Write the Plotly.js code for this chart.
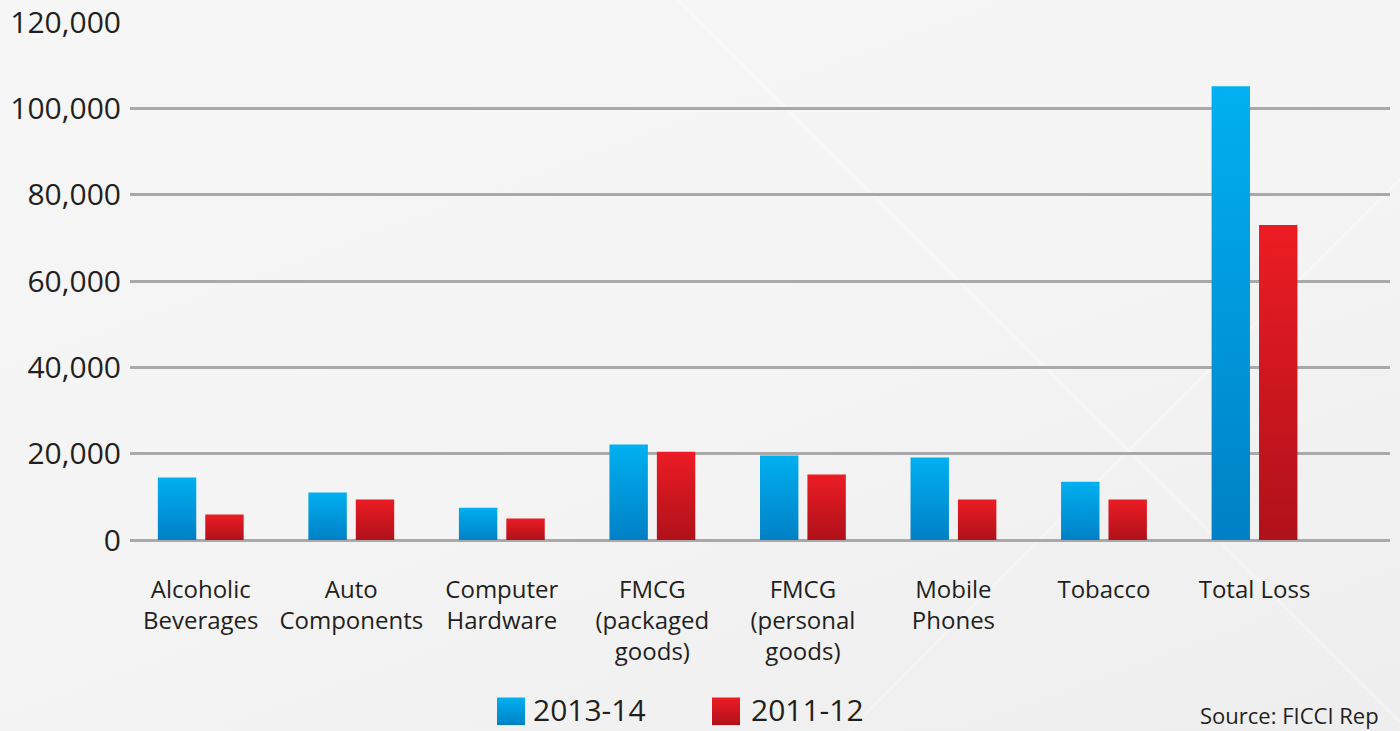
<!DOCTYPE html>
<html>
<head>
<meta charset="utf-8">
<script src="https://cdn.plot.ly/plotly-3.0.1.min.js"></script>
<style>
  html, body { margin: 0; padding: 0; }
  body {
    width: 1400px; height: 731px; overflow: hidden;
    background:
      linear-gradient(45deg, rgba(255,255,255,0) 66%, rgba(255,255,255,0.35) 66.1%, rgba(255,255,255,0) 66.3%),
      linear-gradient(135deg, rgba(255,255,255,0) 74%, rgba(255,255,255,0.3) 74.1%, rgba(255,255,255,0) 74.3%),
      linear-gradient(160deg, #f6f6f6 0%, #f4f4f4 50%, #eeeeee 100%);
  }
  #chart { width: 1400px; height: 731px; }
</style>
</head>
<body>
<div id="chart"></div>
<script>
const categories = [
  "Alcoholic<br>Beverages",
  "Auto<br>Components",
  "Computer<br>Hardware",
  "FMCG<br>(packaged<br>goods)",
  "FMCG<br>(personal<br>goods)",
  "Mobile<br>Phones",
  "Tobacco",
  "Total Loss"
];
const series2013 = [14450, 11000, 7500, 22100, 19600, 19100, 13500, 105100];
const series2011 = [5900, 9400, 5000, 20450, 15200, 9400, 9400, 72950];
const seriesNames = ["2013-14", "2011-12"];
const yTickVals = [0, 20000, 40000, 60000, 80000, 100000, 120000];
const yTickText = ["0", "20,000", "40,000", "60,000", "80,000", "100,000", "120,000"];
const sourceText = "Source: FICCI Rep";

const FONT = "'Open Sans', Lato, sans-serif";
const TXT = "#231f20";

// plot area in pixels
const L = 130, R = 10, T = 22, B = 190.5;
const W = 1400, H = 731;
const pw = W - L - R, ph = H - T - B;
const px2x = p => (p - L) / pw;
const py2y = p => (H - B - p) / ph;

function sq(top, bottom) {
  const svg = "<svg xmlns='http://www.w3.org/2000/svg' width='28' height='28'>" +
    "<defs><linearGradient id='g' x1='0' y1='0' x2='0' y2='1'>" +
    "<stop offset='0' stop-color='" + top + "'/><stop offset='1' stop-color='" + bottom + "'/>" +
    "</linearGradient></defs><rect width='28' height='28' fill='url(#g)'/></svg>";
  return "data:image/svg+xml;charset=utf-8," + encodeURIComponent(svg);
}

const traces = [
  {
    type: "bar", name: seriesNames[0], x: categories, y: series2013,
    marker: { color: "#00a0e0", line: { width: 0 } }, hoverinfo: "x+y+name"
  },
  {
    type: "bar", name: seriesNames[1], x: categories, y: series2011,
    marker: { color: "#d91a22", line: { width: 0 } }, hoverinfo: "x+y+name"
  }
];

const layout = {
  width: W, height: H,
  margin: { l: L, r: R, t: T, b: B, pad: 0 },
  paper_bgcolor: "rgba(0,0,0,0)",
  plot_bgcolor: "rgba(0,0,0,0)",
  showlegend: false,
  barmode: "group",
  bargap: 0.37,
  bargroupgap: 0.19,
  font: { family: FONT, color: TXT },
  xaxis: {
    type: "category",
    range: [-0.47, 7.9],
    showgrid: false, showline: false, zeroline: false,
    ticks: "", ticklabelstandoff: 33,
    tickfont: { size: 24, color: TXT, family: FONT },
    tickangle: 0, fixedrange: true
  },
  yaxis: {
    range: [0, 120000],
    tickvals: yTickVals, ticktext: yTickText,
    showgrid: true, gridcolor: "#a9a9ab", gridwidth: 3,
    zeroline: true, zerolinecolor: "#a9a9ab", zerolinewidth: 3,
    showline: false, ticks: "", ticklabelstandoff: 8,
    tickfont: { size: 30, color: TXT, family: FONT },
    fixedrange: true
  },
  images: [
    { source: sq("#00b0f0", "#0080c6"), xref: "paper", yref: "paper",
      x: px2x(497), y: py2y(698), sizex: 28 / pw, sizey: 28 / ph,
      xanchor: "left", yanchor: "top", sizing: "stretch", layer: "above" },
    { source: sq("#ec1c24", "#b0111a"), xref: "paper", yref: "paper",
      x: px2x(712), y: py2y(698), sizex: 28 / pw, sizey: 28 / ph,
      xanchor: "left", yanchor: "top", sizing: "stretch", layer: "above" }
  ],
  annotations: [
    { text: seriesNames[0], xref: "paper", yref: "paper", x: px2x(532), y: py2y(710),
      xanchor: "left", yanchor: "middle", showarrow: false, borderpad: 0,
      font: { size: 30, color: TXT, family: FONT } },
    { text: seriesNames[1], xref: "paper", yref: "paper", x: px2x(750), y: py2y(710),
      xanchor: "left", yanchor: "middle", showarrow: false, borderpad: 0,
      font: { size: 30, color: TXT, family: FONT } },
    { text: sourceText, xref: "paper", yref: "paper", x: px2x(1199), y: py2y(716),
      xanchor: "left", yanchor: "middle", showarrow: false, borderpad: 0,
      font: { size: 22, color: TXT, family: FONT } }
  ]
};

Plotly.newPlot("chart", traces, layout, { staticPlot: true, displayModeBar: false }).then(gd => {
  const svg = gd.querySelector("svg.main-svg");
  const NS = "http://www.w3.org/2000/svg";
  const defs = document.createElementNS(NS, "defs");
  const grads = [["gradBlue", "#00b0f0", "#0080c6"], ["gradRed", "#ec1c24", "#b0111a"]];
  grads.forEach(([id, a, b]) => {
    const lg = document.createElementNS(NS, "linearGradient");
    lg.setAttribute("id", id);
    lg.setAttribute("x1", "0"); lg.setAttribute("y1", "0");
    lg.setAttribute("x2", "0"); lg.setAttribute("y2", "1");
    [[0, a], [1, b]].forEach(([o, c]) => {
      const s = document.createElementNS(NS, "stop");
      s.setAttribute("offset", String(o));
      s.setAttribute("stop-color", c);
      lg.appendChild(s);
    });
    defs.appendChild(lg);
  });
  svg.insertBefore(defs, svg.firstChild);
  const traceGroups = gd.querySelectorAll("g.barlayer g.trace");
  traceGroups.forEach((g, i) => {
    g.querySelectorAll("g.point path").forEach(p => {
      p.style.fill = "url(#" + grads[i][0] + ")";
    });
  });
});
</script>
</body>
</html>
